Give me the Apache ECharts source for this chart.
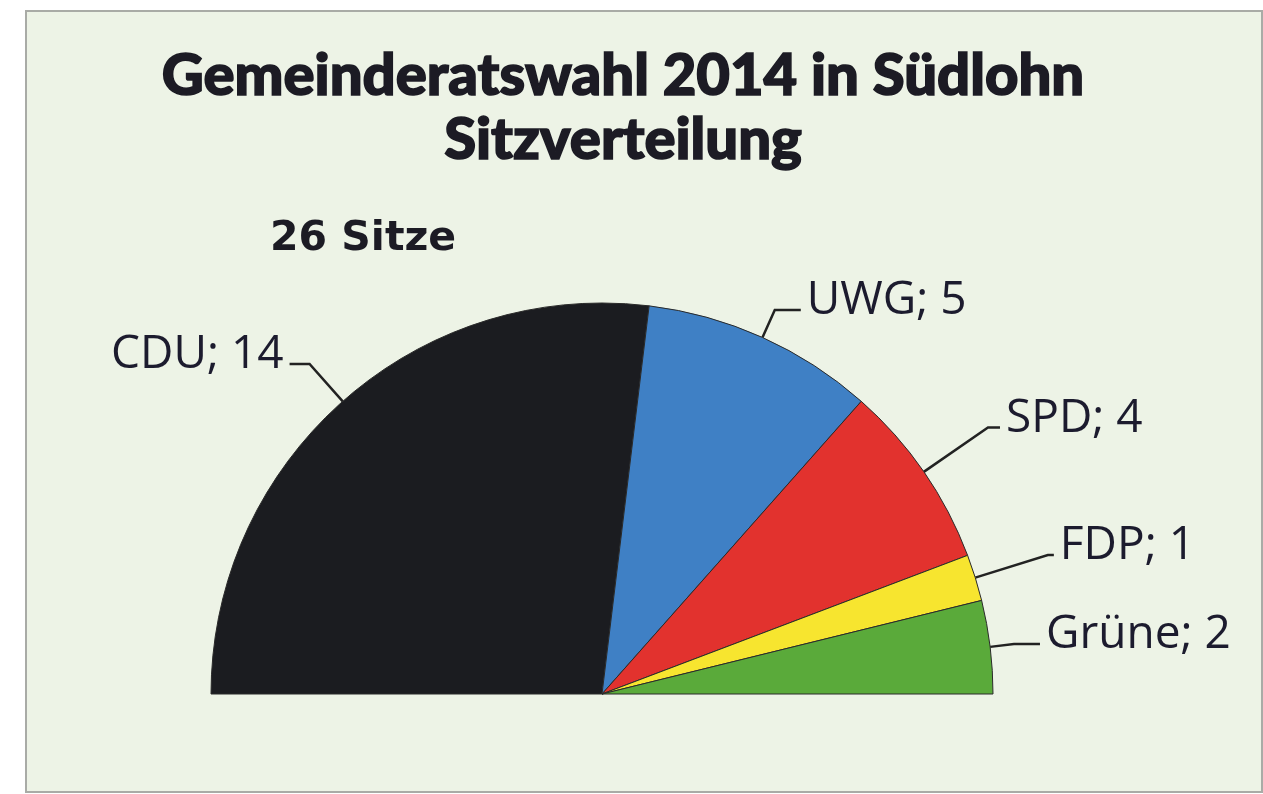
<!DOCTYPE html>
<html>
<head>
<meta charset="utf-8">
<script src="https://cdn.jsdelivr.net/npm/echarts@6/dist/echarts.min.js"></script>
<style>
html,body{margin:0;padding:0;background:#ffffff;}
#chart{width:1263px;height:794px;}
</style>
</head>
<body>
<div id="chart"></div>
<script>
const titleLines = ['Gemeinderatswahl 2014 in Südlohn', 'Sitzverteilung'];
const totalLabel = '26 Sitze';
const parties = ['CDU', 'UWG', 'SPD', 'FDP', 'Grüne'];
const seats = [14, 5, 4, 1, 2];
const partyColors = ['#1b1c20', '#3f80c5', '#e2322e', '#f7e52f', '#5aaa3a'];

const chart = echarts.init(document.getElementById('chart'), null, {renderer: 'canvas'});

const lineLens = [
  {length: 50, length2: 20},
  {length: 30, length2: 26},
  {length: 78, length2: 12},
  {length: 76, length2: 6},
  {length: 24, length2: 26}
];

const data = parties.map((p, i) => ({
  name: p,
  value: seats[i],
  itemStyle: {color: partyColors[i]},
  labelLine: lineLens[i]
}));

const option = {
  backgroundColor: '#ffffff',
  animation: false,
  graphic: [
    {
      type: 'rect', z: -10,
      shape: {x: 26, y: 11, width: 1236, height: 781},
      style: {fill: '#edf3e6', stroke: '#a9aba6', lineWidth: 2}
    },
    {
      type: 'text', z: 10,
      x: 623, y: 44,
      style: {
        text: titleLines.join('\n'),
        font: '900 58px Lato',
        fill: '#1c1b24',
        stroke: '#1c1b24',
        lineWidth: 1.6,
        align: 'center',
        lineHeight: 64
      }
    },
    {
      type: 'text', z: 10,
      x: 270, y: 219,
      style: {
        text: totalLabel,
        font: 'bold 41px "DejaVu Sans"',
        fill: '#1c1b24',
        align: 'left'
      }
    }
  ],
  series: [{
    type: 'pie',
    center: [602, 694],
    radius: [0, 391],
    startAngle: 180,
    endAngle: 0,
    clockwise: true,
    data: data,
    itemStyle: {borderColor: '#2a2a2a', borderWidth: 1},
    label: {
      show: true,
      position: 'outside',
      formatter: '{b}; {c}',
      fontFamily: 'Open Sans',
      fontSize: 46,
      color: '#1c1b2e',
      offset: [0, -9],
      distanceToLabelLine: 6
    },
    labelLine: {
      show: true,
      lineStyle: {color: '#222222', width: 2.5}
    },
    emphasis: {disabled: true}
  }]
};
chart.setOption(option);
</script>
</body>
</html>
